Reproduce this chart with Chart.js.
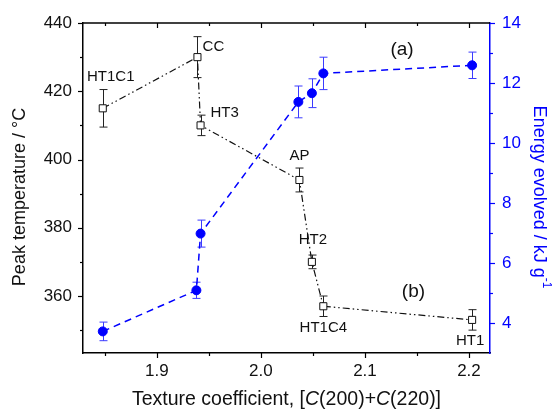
<!DOCTYPE html>
<html><head><meta charset="utf-8">
<script src="https://cdn.jsdelivr.net/npm/chart.js@4.4.0/dist/chart.umd.min.js"></script>
<style>html,body{margin:0;padding:0;background:#fff}#wrap{width:552px;height:414px;position:relative}</style>
</head><body><div id="wrap"><canvas id="c" width="552" height="414"></canvas></div>
<script>
// ---- data ----
const sampleLabels = ['HT1C1','CC','HT3','AP','HT2','HT1C4','HT1'];
const textureCoef = [1.848, 1.939, 1.942, 2.037, 2.049, 2.060, 2.203];
const peakTemp    = [415, 430, 410, 394, 370, 357, 353];
const peakTempErr = [5.5, 6, 3, 3.5, 2, 3, 3];
const energyX     = [1.848, 1.938, 1.942, 2.036, 2.049, 2.060, 2.203];
const energy      = [3.72, 5.09, 6.98, 11.37, 11.66, 12.32, 12.59];
const energyErr   = [0.31, 0.27, 0.45, 0.53, 0.48, 0.54, 0.44];
const xTicks      = [1.9, 2.0, 2.1, 2.2];
const xMinor      = [1.85, 1.95, 2.05, 2.15];
const tempTicks   = [360, 380, 400, 420, 440];
const tempMinor   = [350, 370, 390, 410, 430];
const energyTicks = [4, 6, 8, 10, 12, 14];
const energyMinor = [5, 7, 9, 11, 13];

// ---- styling ----
const FONT = 'Liberation Sans, Arial, sans-serif';
const BLUE = '#0000ff';
const labelOffsets = [[8,-31],[16,-10],[24,-13],[0,-24],[1,-22],[0,22],[-2,21]];

function drawErr(ctx, xs, ys, xv, yv, ev, color, cap){
  ctx.save();
  ctx.strokeStyle = color; ctx.lineWidth = 1;
  for(let i=0;i<xv.length;i++){
    const px = Math.round(xs.getPixelForValue(xv[i]))+0.5;
    const t = ys.getPixelForValue(yv[i]+ev[i]);
    const b = ys.getPixelForValue(yv[i]-ev[i]);
    ctx.beginPath();
    ctx.moveTo(px,t); ctx.lineTo(px,b);
    ctx.moveTo(px-cap,t); ctx.lineTo(px+cap,t);
    ctx.moveTo(px-cap,b); ctx.lineTo(px+cap,b);
    ctx.stroke();
  }
  ctx.restore();
}

function drawSegments(ctx, segs, cx, cy){
  let w = 0;
  segs.forEach(s=>{ ctx.font = s.font; w += ctx.measureText(s.t).width; });
  let x = cx - w/2;
  segs.forEach(s=>{ ctx.font = s.font; ctx.fillText(s.t, x, cy + (s.dy||0)); x += ctx.measureText(s.t).width; });
}

const decor = {
  id: 'decor',
  beforeDatasetsDraw(chart){
    const ctx = chart.ctx, x = chart.scales.x;
    drawErr(ctx, x, chart.scales.yT, textureCoef, peakTemp, peakTempErr, '#222', 4);
    drawErr(ctx, x, chart.scales.yE, energyX, energy, energyErr, '#3b3bff', 4);
  },
  afterDraw(chart){
    const ctx = chart.ctx, ca = chart.chartArea;
    const x = chart.scales.x, yT = chart.scales.yT, yE = chart.scales.yE;
    ctx.save();
    // top border
    ctx.strokeStyle = '#000'; ctx.lineWidth = 1.5;
    ctx.beginPath(); ctx.moveTo(ca.left, ca.top); ctx.lineTo(ca.right, ca.top); ctx.stroke();
    ctx.lineWidth = 1.2;
    // x ticks (bottom outward, top inward)
    const xt = (vals, len) => vals.forEach(v=>{
      const p = Math.round(x.getPixelForValue(v))+0.5;
      ctx.beginPath(); ctx.moveTo(p, ca.bottom); ctx.lineTo(p, ca.bottom+len);
      ctx.moveTo(p, ca.top); ctx.lineTo(p, ca.top+len); ctx.stroke();
    });
    xt(xTicks, 5); xt(xMinor, 3);
    // left ticks
    const lt = (vals, len) => vals.forEach(v=>{
      const p = Math.round(yT.getPixelForValue(v))+0.5;
      ctx.beginPath(); ctx.moveTo(ca.left, p); ctx.lineTo(ca.left-len, p); ctx.stroke();
    });
    lt(tempTicks, 5); lt(tempMinor, 3);
    // right ticks
    ctx.strokeStyle = BLUE;
    const rt = (vals, len) => vals.forEach(v=>{
      const p = Math.round(yE.getPixelForValue(v))+0.5;
      ctx.beginPath(); ctx.moveTo(ca.right, p); ctx.lineTo(ca.right+len, p); ctx.stroke();
    });
    rt(energyTicks, 5); rt(energyMinor, 3);

    // point labels
    ctx.fillStyle = '#111'; ctx.font = '15px ' + FONT;
    ctx.textAlign = 'center'; ctx.textBaseline = 'middle';
    sampleLabels.forEach((s,i)=>{
      const px = x.getPixelForValue(textureCoef[i]);
      const py = yT.getPixelForValue(peakTemp[i]);
      ctx.fillText(s, px + labelOffsets[i][0], py + labelOffsets[i][1]);
    });
    // panel labels
    ctx.font = '19px ' + FONT;
    ctx.fillText('(a)', ca.left + (ca.right-ca.left)*0.784, ca.top + (ca.bottom-ca.top)*0.082);
    ctx.fillText('(b)', ca.left + (ca.right-ca.left)*0.812, ca.top + (ca.bottom-ca.top)*0.815);

    // axis titles
    const tf = '18px ' + FONT;
    const bf = '19.5px ' + FONT, bfi = 'italic 19.5px ' + FONT;
    ctx.textAlign = 'left';
    drawSegments(ctx, [
      {t:'Texture coefficient, [', font:bf},
      {t:'C', font:bfi},
      {t:'(200)+', font:bf},
      {t:'C', font:bfi},
      {t:'(220)]', font:bf}
    ], (ca.left+ca.right)/2, 400);

    ctx.save();
    ctx.translate(20, 197); ctx.rotate(-Math.PI/2);
    ctx.textAlign = 'center'; ctx.font = tf; ctx.fillStyle = '#111';
    ctx.fillText('Peak temperature / °C', 0, 0);
    ctx.restore();

    ctx.save();
    ctx.translate(539, 197); ctx.rotate(Math.PI/2);
    ctx.textAlign = 'left'; ctx.fillStyle = BLUE;
    drawSegments(ctx, [
      {t:'Energy evolved / kJ g', font:tf},
      {t:'-1', font:'12px ' + FONT, dy:-7}
    ], 0, 0);
    ctx.restore();
    ctx.restore();
  }
};

const tickFont = {family: FONT, size: 17};
new Chart(document.getElementById('c'), {
  type: 'scatter',
  data: {
    datasets: [
      {
        label: 'Peak temperature',
        data: textureCoef.map((v,i)=>({x:v, y:peakTemp[i]})),
        yAxisID: 'yT',
        showLine: true,
        borderColor: '#111', borderWidth: 1.2,
        borderDash: [7,3,1.5,3,1.5,3],
        pointStyle: 'rect', pointRadius: 5, pointBorderWidth: 1,
        pointBackgroundColor: '#fff', pointBorderColor: '#111'
      },
      {
        label: 'Energy evolved',
        data: energyX.map((v,i)=>({x:v, y:energy[i]})),
        yAxisID: 'yE',
        showLine: true,
        borderColor: BLUE, borderWidth: 1.5,
        borderDash: [7,5],
        pointStyle: 'circle', pointRadius: 4.5, pointBorderWidth: 1,
        pointBackgroundColor: BLUE, pointBorderColor: BLUE
      }
    ]
  },
  options: {
    responsive: false, animation: false, devicePixelRatio: 1,
    layout: {padding: {top: 23, left: 0, right: 0, bottom: 0}},
    plugins: {legend: {display: false}, tooltip: {enabled: false}},
    scales: {
      x: {
        type: 'linear', position: 'bottom', min: 1.829, max: 2.2202,
        afterBuildTicks: s => { s.ticks = xTicks.map(v=>({value:v})); },
        afterFit: s => { s.height = 61; },
        grid: {display: false, drawTicks: false},
        border: {display: true, color: '#000', width: 1.5},
        ticks: {padding: 8, color: '#111', font: tickFont, callback: v => Number(v).toFixed(1)}
      },
      yT: {
        type: 'linear', position: 'left', min: 343.3, max: 440,
        afterBuildTicks: s => { s.ticks = tempTicks.map(v=>({value:v})); },
        afterFit: s => { s.width = 83; },
        grid: {display: false, drawTicks: false},
        border: {display: true, color: '#000', width: 1.5},
        ticks: {padding: 11, color: '#111', font: tickFont, callback: v => String(v)}
      },
      yE: {
        type: 'linear', position: 'right', min: 3, max: 14,
        afterBuildTicks: s => { s.ticks = energyTicks.map(v=>({value:v})); },
        afterFit: s => { s.width = 62; },
        grid: {display: false, drawTicks: false},
        border: {display: true, color: BLUE, width: 1.5},
        ticks: {padding: 12, color: BLUE, font: tickFont, callback: v => String(v)}
      }
    }
  },
  plugins: [decor]
});
</script>
</body></html>
